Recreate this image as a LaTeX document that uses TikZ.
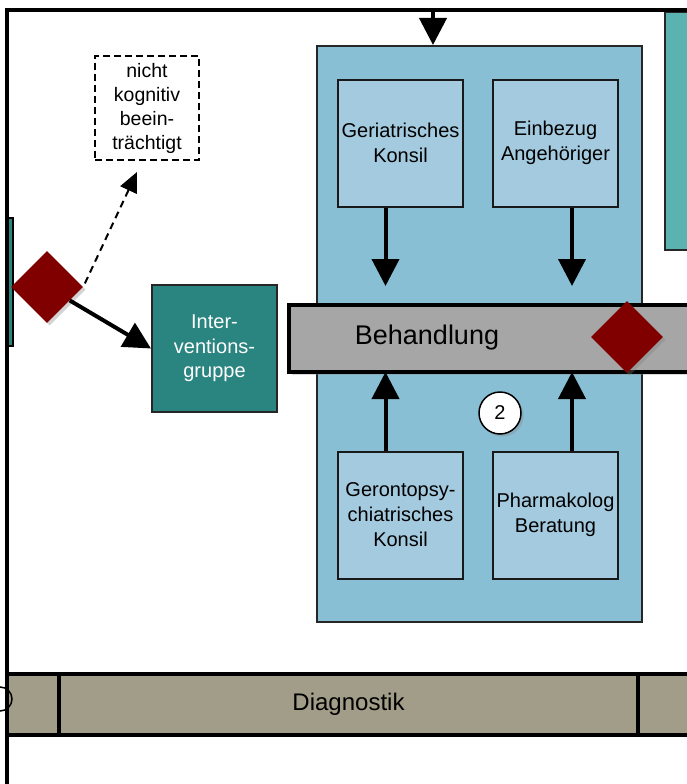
\documentclass[tikz,border=0pt]{standalone}
\usepackage{fontspec}
\setmainfont{Liberation Sans}
\usetikzlibrary{arrows.meta,shapes.geometric,shadows,calc}
\definecolor{bluebg}{HTML}{89BFD4}
\definecolor{konsilblue}{HTML}{A3CADE}
\definecolor{tealdark}{HTML}{2A847F}
\definecolor{teallight}{HTML}{5BB3B1}
\definecolor{bargray}{HTML}{A6A6A6}
\definecolor{diagkhaki}{HTML}{A29D88}
\definecolor{darkred}{HTML}{800000}
\tikzset{
  konsil/.style={draw=black!90, line width=2pt, fill=konsilblue, minimum width=125pt,
    minimum height=127pt, inner sep=0pt, align=center, font=\fontsize{20}{25}\selectfont},
  bigarrow/.style={line width=4pt, -{Triangle[length=27pt,width=27pt]}},
  raute/.style={diamond, fill=darkred, minimum width=72pt, minimum height=72pt,
    inner sep=0pt, drop shadow={opacity=0.35}},
  diagbar/.style={draw, line width=4pt, fill=diagkhaki, minimum height=61pt,
    inner sep=0pt, font=\fontsize{24}{28}\selectfont}
}
\begin{document}
\begin{tikzpicture}[x=1pt,y=-1pt]
\useasboundingbox (0,0) rectangle (687,784);
\clip (0,0) rectangle (687,784);
% Rand rechts und links
\draw[fill=teallight, draw=black!85, line width=1.5pt] (665,12) rectangle (700,250);
\draw[fill=tealdark, line width=1.5pt] (7,218) rectangle (13,346);
% Behandlungsblock
\node[draw=black!85, line width=2pt, fill=bluebg, minimum width=325pt, minimum height=576pt] (bluebox) at (479.5,334) {};
\foreach \n/\x/\y/\t in {geriatrisch/400.5/143/{Geriatrisches\\Konsil},
    angehoerige/555.5/143/{Einbezug\\Angeh\"origer},
    geronto/400.5/515/{Gerontopsy-\\chiatrisches\\Konsil},
    pharma/555.5/515/{Pharmakolog\\Beratung}} {
  \node[konsil] (\n) at (\x,\y) {\t};
}
\node[draw, line width=4pt, fill=bargray, minimum width=420pt, minimum height=67pt,
  drop shadow={opacity=0.3}] (behandlung) at (499,338.5) {};
\node[font=\fontsize{27}{32}\selectfont] (behtext) at (427,338) {Behandlung};
\node[raute] (rraute) at (627,337) {};
\node[circle, draw, line width=1.5pt, fill=white, minimum size=42pt, inner sep=0pt,
  font=\fontsize{20}{24}\selectfont, drop shadow={opacity=0.3}] (nr) at (500,413) {2};
\foreach \n/\d in {geriatrisch/-15, angehoerige/16.5} {
  \coordinate (a\n) at ($(\n.south)+(\d,0)$);
  \draw[bigarrow, shorten >=17pt] (a\n) -- (a\n |- behandlung.north);
}
\foreach \n/\d in {geronto/-15, pharma/16.5} {
  \coordinate (b\n) at ($(\n.north)+(\d,0)$);
  \draw[bigarrow, shorten >=-2pt] (b\n) -- (b\n |- behandlung.south);
}
\coordinate (topin) at (433,10);
\draw[bigarrow] (topin) -- (topin |- bluebox.north);
% Verzweigung links
\node[draw, dashed, dash pattern=on 7pt off 4pt, line width=2pt, minimum width=104pt,
  minimum height=104pt, inner sep=0pt, align=center,
  font=\fontsize{19.5}{24}\selectfont] (nichtkog) at (147,108) {nicht\\kognitiv\\beein-\\tr\"achtigt};
\node[draw=black!85, line width=2pt, fill=tealdark, text=white, minimum width=125pt,
  minimum height=127pt, inner sep=0pt, align=center,
  font=\fontsize{20}{24.5}\selectfont] (interv) at (214.5,348.5) {Inter-\\ventions-\\gruppe};
\node[raute] (lraute) at (47,287) {};
\draw[bigarrow] (lraute) -- (interv.west);
\coordinate (nkpfeil) at (137,172);
\draw[line width=2pt, dash pattern=on 7pt off 5pt, shorten <=4pt,
  -{Triangle[length=20pt,width=18pt]}] (lraute.east) -- (nkpfeil);
% Diagnostik
\node[diagbar, minimum width=579pt] (diagnostik) at (348.5,704.5) {Diagnostik};
\node[diagbar, minimum width=52pt] (diagl) at (33,704.5) {};
\node[diagbar, minimum width=82pt] (diagr) at (679,704.5) {};
\draw[line width=1.5pt] (0,699) circle (12);
% Rahmen
\draw[line width=4pt] (7,800) -- (7,10) -- (700,10);
\end{tikzpicture}
\end{document}
